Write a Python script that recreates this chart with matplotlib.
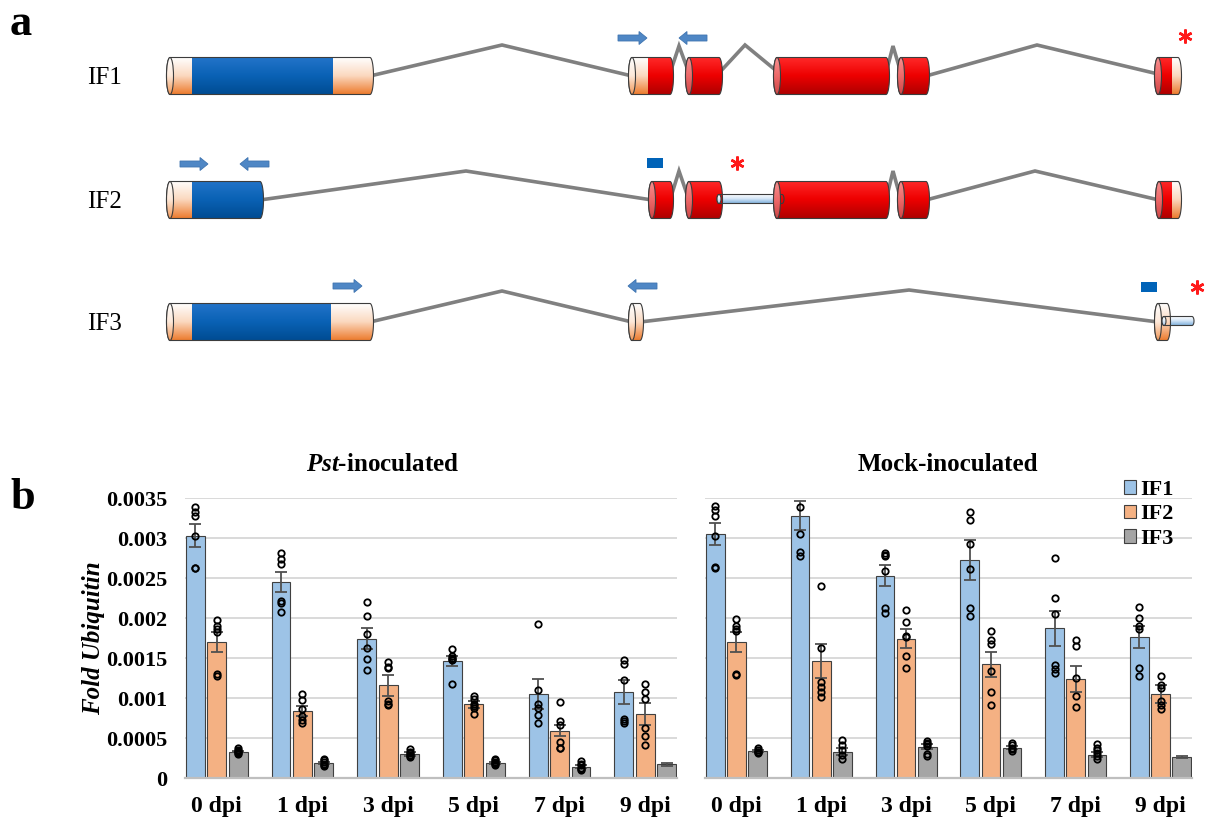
import numpy as np
import matplotlib
matplotlib.use('Agg')
import matplotlib.pyplot as plt
from matplotlib.patches import Ellipse, PathPatch, Rectangle, FancyArrow, Patch
from matplotlib.path import Path
from matplotlib.colors import to_rgb

plt.rcParams['font.family'] = ['Liberation Serif', 'DejaVu Serif']
plt.rcParams['mathtext.fontset'] = 'custom'
plt.rcParams['mathtext.it'] = 'Liberation Serif:italic:bold'
plt.rcParams['mathtext.rm'] = 'Liberation Serif:bold'

# ---------------- panel a : gene models (pixel coordinates) ----------------
isoforms = ['IF1', 'IF2', 'IF3']
row_y = [76, 200, 322]
exon_h = 37

# exons: (start, end, [(seg_start, seg_end, kind), ...])
if1_exons = [(170, 370, [(170, 192, 'utr'), (192, 333, 'blue'), (333, 370, 'utr')]),
             (632, 670, [(632, 648, 'utr'), (648, 670, 'red')]),
             (689, 719, [(689, 719, 'red')]),
             (777, 886, [(777, 886, 'red')]),
             (901, 926, [(901, 926, 'red')]),
             (1158, 1178, [(1158, 1172, 'red'), (1172, 1178, 'utr')])]
if2_exons = [(170, 260, [(170, 192, 'utr'), (192, 260, 'blue')]),
             (652, 670, [(652, 670, 'red')]),
             (689, 719, [(689, 719, 'red')]),
             (777, 886, [(777, 886, 'red')]),
             (901, 926, [(901, 926, 'red')]),
             (1159, 1178, [(1159, 1172, 'red'), (1172, 1178, 'utr')])]
if3_exons = [(170, 370, [(170, 192, 'utr'), (192, 331, 'blue'), (331, 370, 'utr')]),
             (632, 640, [(632, 640, 'utr')]),
             (1158, 1167, [(1158, 1167, 'utr')])]
exons = [if1_exons, if2_exons, if3_exons]

# thin non-coding stretches (retained intron / 3' extension): (start, end, row)
thin_bars = [(719, 782, 1), (1164, 1192, 2)]

# introns as (x, y) polylines
introns = [[[(370, 76), (502, 45), (632, 76)],
            [(670, 73), (679, 46), (689, 73)],
            [(719, 73), (745, 45), (779, 73)],
            [(886, 73), (893, 46), (901, 73)],
            [(926, 76), (1037, 45), (1158, 74)]],
           [[(260, 200), (466, 171), (652, 200)],
            [(670, 200), (679, 171), (689, 200)],
            [(886, 200), (893, 171), (901, 200)],
            [(926, 200), (1035, 171), (1159, 200)]],
           [[(370, 322), (502, 291), (632, 322)],
            [(640, 322), (909, 290), (1158, 322)]]]

# primers: (x_from, x_to, y)
primers = [(618, 647, 38), (707, 679, 38),
           (180, 208, 164), (269, 240, 164),
           (333, 362, 286), (657, 628, 286)]
probes = [(647, 158, 16, 10), (1141, 282, 16, 10)]
stops = [(1185, 36), (737, 163), (1197, 287)]

grads = {'utr': ['#FFFFFF', '#FBD9C0', '#ED7D31'],
         'blue': ['#2374C9', '#0A62B5', '#004C93'],
         'red': ['#FF2A2A', '#EE0000', '#B00000'],
         'thin': ['#FFFFFF', '#D6E7F7', '#86B4DE']}
face_grads = {'utr': ['#FFFFFF', '#FDE9DA', '#F29A5C'],
              'red': ['#F79090', '#EE6A6A', '#D04848'],
              'blue': ['#5A97D8', '#3B7FC8', '#1D5FA0'],
              'thin': ['#FFFFFF', '#E3EFFA', '#A8C8E8']}


def grad_img(cols, n=64):
    stops_ = np.linspace(0, 1, len(cols))
    t = np.linspace(0, 1, n)
    rgb = np.array([to_rgb(c) for c in cols])
    img = np.stack([np.interp(t, stops_, rgb[:, k]) for k in range(3)], axis=1)
    return img[:, None, :]


def cyl_path(x0, x1, yc, h, rx):
    t1 = np.linspace(-np.pi / 2, np.pi / 2, 30)
    right = np.column_stack([x1 + rx * np.cos(t1), yc + h / 2 * np.sin(t1)])
    t2 = np.linspace(np.pi / 2, 3 * np.pi / 2, 30)
    left = np.column_stack([x0 + rx * np.cos(t2), yc + h / 2 * np.sin(t2)])
    return Path(np.vstack([right, left, right[:1]]), closed=True)


def draw_exon(ax, x0, x1, yc, h, segs, rx=3.5):
    outline = PathPatch(cyl_path(x0, x1, yc, h, rx), fc='none', ec='#3c3c3c', lw=0.8, zorder=4)
    ax.add_patch(outline)
    for xa, xb, kind in segs:
        xa2 = x0 - rx - 1 if xa == x0 else xa
        xb2 = x1 + rx + 1 if xb == x1 else xb
        im = ax.imshow(grad_img(grads[kind]), extent=(xa2, xb2, yc + h / 2, yc - h / 2),
                       aspect='auto', interpolation='bilinear', zorder=3)
        im.set_clip_path(outline)
    face = Ellipse((x0, yc), 2 * rx, h, fc='none', ec='#3c3c3c', lw=0.8, zorder=6)
    ax.add_patch(face)
    im = ax.imshow(grad_img(face_grads[segs[0][2]]), extent=(x0 - rx, x0 + rx, yc + h / 2, yc - h / 2),
                   aspect='auto', interpolation='bilinear', zorder=5)
    im.set_clip_path(face)


fig = plt.figure(figsize=(12.05, 8.22), dpi=100)
ax_a = fig.add_axes([0, 0, 1, 1])
ax_a.axis('off')

for r in range(3):
    yc = row_y[r]
    for line in introns[r]:
        xs, ys = zip(*line)
        ax_a.plot(xs, ys, color='#808080', lw=2.6, solid_joinstyle='miter', zorder=1)
    ax_a.text(87, yc + 8, isoforms[r], fontsize=18, ha='left', va='baseline')

for x0, x1, r in thin_bars:
    draw_exon(ax_a, x0, x1, row_y[r] - 1, 9, [(x0, x1, 'thin')], rx=2)

for r in range(3):
    for x0, x1, segs in exons[r]:
        draw_exon(ax_a, x0, x1, row_y[r], exon_h, segs)

for xf, xt, y in primers:
    ax_a.add_patch(FancyArrow(xf, y, xt - xf, 0, width=6, head_width=13, head_length=8,
                              length_includes_head=True, fc='#4F87C5', ec='#3F74B0', lw=0.6, zorder=5))
for x, y, w, h in probes:
    ax_a.add_patch(Rectangle((x, y), w, h, fc='#0063B8', ec='none', zorder=5))
for x, y in stops:
    ax_a.plot(x, y, marker=(6, 2, 0), ms=10, mew=1.8, color='#FF1A1A', zorder=6)

ax_a.set_xlim(0, 1205)
ax_a.set_ylim(822, 0)

fig.text(10 / 1205, 1 - 35 / 822, 'a', fontsize=32, fontweight='bold', va='baseline')
fig.text(10 / 1205, 1 - 509 / 822, 'b', fontsize=32, fontweight='bold', va='baseline')

# ---------------- panel b : expression ----------------
days = ['0 dpi', '1 dpi', '3 dpi', '5 dpi', '7 dpi', '9 dpi']
yticks = [0, 0.0005, 0.001, 0.0015, 0.002, 0.0025, 0.003, 0.0035]
ytick_labels = ['0', '0.0005', '0.001', '0.0015', '0.002', '0.0025', '0.003', '0.0035']
iso_colors = ['#9DC3E6', '#F4B183', '#A5A5A5']

pst_if1_mean = [0.00303, 0.00245, 0.00174, 0.00146, 0.00105, 0.00107]
pst_if1_se = [0.00014, 0.00013, 0.00013, 0.00006, 0.00019, 0.00015]
pst_if1_pts = [[0.00339, 0.00333, 0.00328, 0.00302, 0.00263, 0.00262],
               [0.00281, 0.00274, 0.00267, 0.00221, 0.00219, 0.00208],
               [0.00220, 0.00203, 0.00180, 0.00162, 0.00149, 0.00135],
               [0.00161, 0.00153, 0.00150, 0.00149, 0.00147, 0.00118],
               [0.00192, 0.00110, 0.00093, 0.00087, 0.00079, 0.00069],
               [0.00148, 0.00143, 0.00122, 0.00074, 0.00071, 0.00069]]
pst_if2_mean = [0.00170, 0.00084, 0.00116, 0.00092, 0.00059, 0.00080]
pst_if2_se = [0.00013, 0.00006, 0.00013, 0.00004, 0.00007, 0.00014]
pst_if2_pts = [[0.00198, 0.00190, 0.00186, 0.00183, 0.00130, 0.00128],
               [0.00105, 0.00097, 0.00086, 0.00078, 0.00072, 0.00069],
               [0.00145, 0.00139, 0.00137, 0.00096, 0.00093, 0.00091],
               [0.00103, 0.00099, 0.00093, 0.00090, 0.00087, 0.00080],
               [0.00095, 0.00071, 0.00066, 0.00045, 0.00038, 0.00037],
               [0.00118, 0.00108, 0.00099, 0.00062, 0.00053, 0.00041]]
pst_if3_mean = [0.00033, 0.00019, 0.00030, 0.00019, 0.00014, 0.00017]
pst_if3_se = [0.00001, 0.00001, 0.00002, 0.00001, 0.00002, 0.00002]
pst_if3_pts = [[0.00037, 0.00035, 0.00034, 0.00033, 0.00031, 0.00030],
               [0.00024, 0.00022, 0.00020, 0.00018, 0.00016, 0.00015],
               [0.00036, 0.00033, 0.00031, 0.00029, 0.00027, 0.00026],
               [0.00024, 0.00022, 0.00020, 0.00019, 0.00017, 0.00016],
               [0.00021, 0.00018, 0.00016, 0.00013, 0.00011, 0.00010],
               []]

mock_if1_mean = [0.00305, 0.00328, 0.00253, 0.00272, 0.00187, 0.00176]
mock_if1_se = [0.00014, 0.00018, 0.00013, 0.00025, 0.00022, 0.00014]
mock_if1_pts = [[0.00340, 0.00335, 0.00328, 0.00303, 0.00264, 0.00263],
                [0.00339, 0.00305, 0.00283, 0.00278],
                [0.00281, 0.00279, 0.00277, 0.00259, 0.00212, 0.00206],
                [0.00332, 0.00322, 0.00293, 0.00261, 0.00212, 0.00203],
                [0.00275, 0.00225, 0.00205, 0.00141, 0.00136, 0.00131],
                [0.00214, 0.00200, 0.00190, 0.00186, 0.00138, 0.00128]]
mock_if2_mean = [0.00170, 0.00146, 0.00174, 0.00142, 0.00124, 0.00105]
mock_if2_se = [0.00013, 0.00021, 0.00012, 0.00016, 0.00016, 0.00011]
mock_if2_pts = [[0.00199, 0.00190, 0.00186, 0.00184, 0.00130, 0.00129],
                [0.00240, 0.00163, 0.00120, 0.00114, 0.00108, 0.00101],
                [0.00210, 0.00195, 0.00178, 0.00176, 0.00153, 0.00137],
                [0.00184, 0.00172, 0.00168, 0.00134, 0.00107, 0.00091],
                [0.00173, 0.00165, 0.00125, 0.00103, 0.00089],
                [0.00127, 0.00116, 0.00113, 0.00096, 0.00091, 0.00086]]
mock_if3_mean = [0.00034, 0.00033, 0.00039, 0.00038, 0.00029, 0.00026]
mock_if3_se = [0.00001, 0.00004, 0.00003, 0.00002, 0.00003, 0.00001]
mock_if3_pts = [[0.00038, 0.00035, 0.00033, 0.00032, 0.00031],
                [0.00047, 0.00041, 0.00035, 0.00029, 0.00024],
                [0.00046, 0.00044, 0.00042, 0.00040, 0.00030, 0.00028],
                [0.00044, 0.00041, 0.00038, 0.00036, 0.00034],
                [0.00042, 0.00038, 0.00035, 0.00031, 0.00027, 0.00024],
                []]

x = np.arange(len(days))
offsets = [-0.25, 0, 0.25]
bw = 0.22


def draw_panel(ax, means, ses, pts):
    for k in range(3):
        xs = x + offsets[k]
        ax.bar(xs, means[k], width=bw, color=iso_colors[k], edgecolor='#404040', lw=0.8, zorder=2)
        ax.errorbar(xs, means[k], yerr=ses[k], fmt='none', ecolor='#505050', elinewidth=1.3,
                    capsize=4, capthick=1.3, zorder=3)
        for i, p in enumerate(pts[k]):
            ax.plot([xs[i]] * len(p), p, 'o', mfc='none', mec='black', ms=4.6, mew=1.3,
                    zorder=4, clip_on=False)
    ax.set_xlim(-0.37, 5.37)
    ax.set_ylim(0, 0.0035)
    ax.set_yticks(yticks)
    ax.set_yticklabels(ytick_labels)
    ax.set_xticks(x)
    ax.set_xticklabels(days)
    ax.yaxis.grid(True, color='#D9D9D9', lw=1.4)
    ax.set_axisbelow(True)
    for s in ['top', 'right', 'left']:
        ax.spines[s].set_visible(False)
    ax.spines['bottom'].set_color('#BFBFBF')
    ax.spines['bottom'].set_linewidth(1.6)
    ax.tick_params(length=0, labelsize=16)
    ax.tick_params(axis='y', pad=13)
    ax.tick_params(axis='x', labelsize=17, pad=13)
    for lab in ax.get_xticklabels() + ax.get_yticklabels():
        lab.set_fontweight('bold')


axL = fig.add_axes([185 / 1205, 1 - 778 / 822, 492 / 1205, 280 / 822])
draw_panel(axL, [pst_if1_mean, pst_if2_mean, pst_if3_mean],
           [pst_if1_se, pst_if2_se, pst_if3_se],
           [pst_if1_pts, pst_if2_pts, pst_if3_pts])

axR = fig.add_axes([705 / 1205, 1 - 778 / 822, 487 / 1205, 280 / 822])
draw_panel(axR, [mock_if1_mean, mock_if2_mean, mock_if3_mean],
           [mock_if1_se, mock_if2_se, mock_if3_se],
           [mock_if1_pts, mock_if2_pts, mock_if3_pts])
axR.tick_params(axis='y', labelleft=False)

fig.text(383 / 1205, 1 - 471 / 822, r'$\mathit{Pst}$-inoculated', ha='center', va='baseline',
         fontsize=18, fontweight='bold')
fig.text(948 / 1205, 1 - 471 / 822, 'Mock-inoculated', ha='center', va='baseline',
         fontsize=18, fontweight='bold')
fig.text(94 / 1205, 1 - 638 / 822, 'Fold Ubiquitin', rotation=90, ha='center', va='center',
         fontsize=18, fontweight='bold', style='italic')

handles = [Patch(fc=c, ec='#404040', lw=0.8) for c in iso_colors]
fig.legend(handles, isoforms, loc='upper left', bbox_to_anchor=(1124 / 1205, 1 - 480 / 822),
           frameon=False, prop={'weight': 'bold', 'size': 16}, handlelength=0.55, handleheight=0.55,
           handletextpad=0.2, labelspacing=0.2, borderpad=0, borderaxespad=0)

fig.savefig('out.png', dpi=100)
